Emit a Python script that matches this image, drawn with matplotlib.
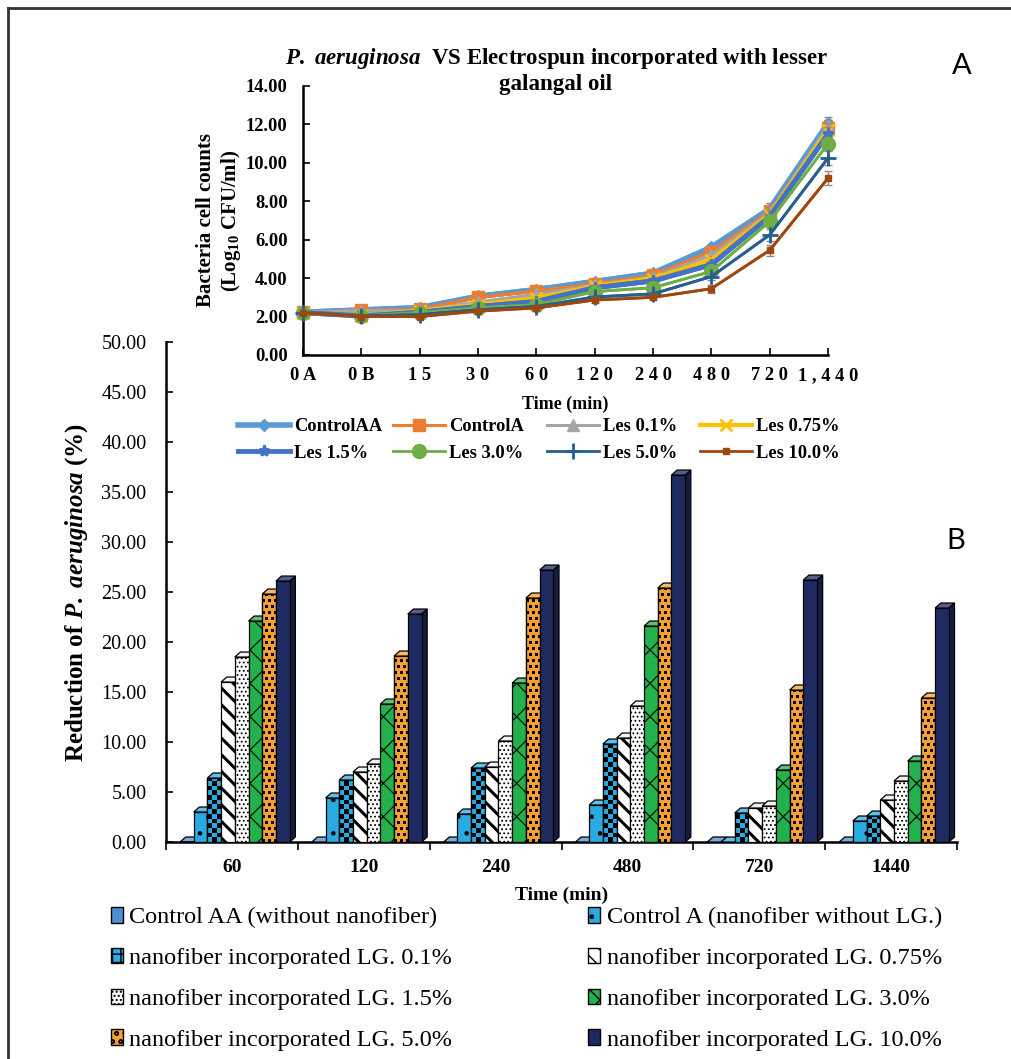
import numpy as np
import matplotlib.pyplot as plt
import matplotlib.colors as mcolors
from matplotlib.patches import Polygon, Rectangle, Patch
from matplotlib.lines import Line2D

plt.rcParams['mathtext.fontset'] = 'custom'
plt.rcParams['mathtext.rm'] = 'Liberation Serif:bold'
plt.rcParams['mathtext.it'] = 'Liberation Serif:italic:bold'
plt.rcParams['mathtext.bf'] = 'Liberation Serif:bold'
plt.rcParams['hatch.linewidth'] = 1.0

# ---- panel A data (log10 CFU/ml) ----
times = ['0 A', '0 B', '1 5', '3 0', '6 0', '1 2 0', '2 4 0', '4 8 0', '7 2 0', '1 , 4 4 0']
ctrl_aa = [2.22, 2.34, 2.46, 3.05, 3.40, 3.82, 4.25, 5.60, 7.60, 12.05]
ctrl_a = [2.22, 2.32, 2.38, 3.00, 3.32, 3.72, 4.15, 5.38, 7.47, 11.80]
les_01 = [2.22, 2.30, 2.32, 2.75, 3.15, 3.65, 4.05, 5.20, 7.40, 11.90]
les_075 = [2.20, 2.05, 2.28, 2.62, 2.95, 3.58, 3.98, 4.95, 7.30, 11.70]
les_15 = [2.20, 2.03, 2.22, 2.52, 2.78, 3.50, 3.85, 4.70, 7.20, 11.50]
les_30 = [2.18, 2.03, 2.20, 2.45, 2.62, 3.30, 3.50, 4.35, 6.95, 11.00]
les_50 = [2.20, 2.03, 2.10, 2.35, 2.52, 3.02, 3.18, 4.08, 6.25, 10.25]
les_100 = [2.20, 2.00, 2.00, 2.28, 2.45, 2.86, 3.00, 3.45, 5.45, 9.20]
err = [0.10, 0.10, 0.10, 0.12, 0.12, 0.15, 0.15, 0.20, 0.30, 0.35]

# ---- panel B data (% reduction) ----
groups = ['60', '120', '240', '480', '720', '1440']
red_aa = [0.0, 0.0, 0.0, 0.0, 0.0, 0.0]
red_a = [3.0, 4.4, 2.8, 3.7, 0.0, 2.1]
red_01 = [6.4, 6.2, 7.4, 9.8, 2.9, 2.6]
red_075 = [16.0, 7.0, 7.5, 10.4, 3.4, 4.2]
red_15 = [18.5, 7.8, 10.1, 13.6, 3.6, 6.1]
red_30 = [22.1, 13.8, 15.9, 21.6, 7.2, 8.1]
red_50 = [24.8, 18.6, 24.4, 25.4, 15.2, 14.4]
red_100 = [26.1, 22.8, 27.2, 36.7, 26.2, 23.4]

fig = plt.figure(figsize=(10.11, 10.59), dpi=100)

# frame lines
fig.add_artist(Line2D([0.008, 1.0], [0.9925, 0.9925], color='#333333', lw=2))
fig.add_artist(Line2D([0.008, 0.008], [0.0, 0.9925], color='#333333', lw=2))

# ================= panel B =================
ax = fig.add_axes([0.1642, 0.2049, 0.7824, 0.4721])
ax.set_xlim(0, 6)
ax.set_ylim(0, 50)

series = [
    ('Control AA (without nanofiber)', red_aa, '#4F8FD0', None, None),
    ('Control A (nanofiber without LG.)', red_a, '#29ABE2', '.', None),
    ('nanofiber incorporated LG. 0.1%', red_01, '#29ABE2', None, 'checker'),
    ('nanofiber incorporated LG. 0.75%', red_075, 'white', '\\\\', None),
    ('nanofiber incorporated LG. 1.5%', red_15, 'white', '....', None),
    ('nanofiber incorporated LG. 3.0%', red_30, '#22B14C', 'x', None),
    ('nanofiber incorporated LG. 5.0%', red_50, '#F7A030', None, 'dots'),
    ('nanofiber incorporated LG. 10.0%', red_100, '#1F2A60', None, None),
]

w = 0.104
dx, dy = 0.043, 0.5
px_x = 6 / (0.7824 * 1011)
px_y = 50 / (0.4721 * 1059)


def shade(c, f):
    r, g, b = mcolors.to_rgb(c)
    if f < 1:
        return (r * f, g * f, b * f)
    return (r + (1 - r) * (f - 1), g + (1 - g) * (f - 1), b + (1 - b) * (f - 1))


def texture(kind, x0, v, color, z, clip):
    if kind == 'checker':
        cx, cy = 4.7 * px_x, 4.7 * px_y
        nc = int(np.ceil(w / cx)) + 1
        nr = int(np.ceil(v / cy)) + 1
        img = (np.add.outer(np.arange(nr), np.arange(nc)) % 2).astype(float)
    else:
        cx, cy = 3.0 * px_x, 3.0 * px_y
        nc = int(np.ceil(w / cx)) + 2
        nr = int(np.ceil(v / cy)) + 2
        rr, cc = np.meshgrid(np.arange(nr), np.arange(nc), indexing='ij')
        img = ((rr % 2 == 0) & ((cc + rr // 2) % 2 == 0)).astype(float)
    cmap = mcolors.ListedColormap([color, 'black'])
    im = ax.imshow(img, extent=(x0, x0 + nc * cx, 0, nr * cy), origin='lower',
                   cmap=cmap, vmin=0, vmax=1, aspect='auto',
                   interpolation='nearest', zorder=z)
    im.set_clip_path(clip)


for gi in range(len(groups)):
    for k, (lab, vals, col, hatch, tex) in enumerate(series):
        v = vals[gi]
        x0 = gi + 0.106 + k * w
        z = 2 + gi * 10 + k
        hlw = 2.2 if hatch == '\\\\' else 0.8
        with plt.rc_context({'hatch.linewidth': hlw}):
            front = Rectangle((x0, 0), w, v, fc=col, ec='black', lw=0.9,
                              hatch=hatch, zorder=z + 0.2)
        ax.add_patch(front)
        if tex is not None and v > 0:
            texture(tex, x0, v, col, z + 0.3, front)
            ax.add_patch(Rectangle((x0, 0), w, v, fc='none', ec='black', lw=0.9, zorder=z + 0.4))
        side = Polygon([(x0 + w, 0), (x0 + w + dx, dy), (x0 + w + dx, v + dy), (x0 + w, v)],
                       closed=True, fc=shade(col, 0.7) if col != 'white' else '#e6e6e6',
                       ec='black', lw=0.9, zorder=z)
        top = Polygon([(x0, v), (x0 + dx, v + dy), (x0 + w + dx, v + dy), (x0 + w, v)],
                      closed=True, fc=shade(col, 1.25) if col != 'white' else '#f2f2f2',
                      ec='black', lw=0.9, zorder=z + 0.5)
        ax.add_patch(side)
        ax.add_patch(top)

ax.set_xlim(0, 6)
ax.set_ylim(0, 50)
ax.spines['top'].set_visible(False)
ax.spines['right'].set_visible(False)
ax.spines['left'].set_linewidth(1.8)
ax.spines['bottom'].set_linewidth(1.8)
ax.set_yticks(np.arange(0, 50.1, 5))
ax.set_yticklabels(['%.2f' % t for t in np.arange(0, 50.1, 5)], family='Liberation Serif', fontsize=14.5)
ax.tick_params(axis='y', direction='in', length=5, width=1.2, pad=14)
ax.set_xticks(np.arange(0, 7))
ax.set_xticklabels([])
ax.set_xticks(np.arange(6) + 0.5, minor=True)
ax.set_xticklabels(groups, minor=True, family='Liberation Serif', fontweight='bold', fontsize=14)
ax.tick_params(axis='x', which='major', direction='out', length=6, width=1.2)
ax.tick_params(axis='x', which='minor', length=0, pad=12)
ax.set_xlabel('Time (min)', family='Liberation Serif', fontweight='bold', fontsize=14, labelpad=8)
ax.set_ylabel(r'Reduction of $\mathit{P.\ aeruginosa}$ (%)', family='Liberation Serif',
              fontweight='bold', fontsize=18, labelpad=8)
ax.patch.set_alpha(0)

handles = []
for lab, vals, col, hatch, tex in series:
    h = hatch
    if tex == 'checker':
        h = '++'
    elif tex == 'dots':
        h = 'oo'
    handles.append(Patch(fc=col, ec='black', hatch=h, label=lab))
order = [0, 2, 4, 6, 1, 3, 5, 7]
fig.legend([handles[i] for i in order], [series[i][0] for i in order],
           loc='upper left', bbox_to_anchor=(0.088, 0.164), ncol=2, frameon=False,
           prop={'family': 'Liberation Serif', 'size': 17.5},
           handlelength=0.5, handleheight=0.6, handletextpad=0.25,
           labelspacing=0.8, columnspacing=5.6)

# ================= panel A (inset) =================
ax2 = fig.add_axes([0.2997, 0.6648, 0.5193, 0.254])
xs = np.arange(len(times))
lines = [
    ('ControlAA', ctrl_aa, '#5B9BD5', 'D', 6, 4.0),
    ('ControlA', ctrl_a, '#ED7D31', 's', 9, 2.2),
    ('Les 0.1%', les_01, '#A5A5A5', '^', 8, 2.2),
    ('Les 0.75%', les_075, '#FFC000', 'x', 8, 3.0),
    ('Les 1.5%', les_15, '#4472C4', '*', 8, 3.5),
    ('Les 3.0%', les_30, '#70AD47', 'o', 10, 2.0),
    ('Les 5.0%', les_50, '#255E91', '+', 12, 2.0),
    ('Les 10.0%', les_100, '#9E480E', 's', 4, 2.0),
]
lh = []
for i, (lab, vals, col, mk, ms, lw) in enumerate(lines):
    ax2.errorbar(xs, vals, yerr=err, color=col, ecolor='#8c8c8c', elinewidth=1,
                 capsize=3, lw=lw, zorder=3 + i, clip_on=False)
    ln, = ax2.plot(xs, vals, color=col, lw=lw, marker=mk, ms=ms, mew=2 if mk in 'x+*' else 1,
                   mec=col, mfc=col, zorder=3 + i, clip_on=False, label=lab)
    lh.append(ln)
ax2.set_xlim(0, 9)
ax2.set_ylim(0, 14)
ax2.set_yticks(np.arange(0, 14.1, 2))
ax2.set_yticklabels(['%.2f' % t for t in np.arange(0, 14.1, 2)], family='Liberation Serif',
                    fontweight='bold', fontsize=13.3)
ax2.set_xticks(xs)
ax2.set_xticklabels(times, family='Liberation Serif', fontweight='bold', fontsize=13.3)
ax2.tick_params(direction='in', length=5, width=1.2, pad=11)
ax2.tick_params(axis='x', pad=9)
ax2.spines['top'].set_visible(False)
ax2.spines['right'].set_visible(False)
ax2.spines['left'].set_linewidth(1.8)
ax2.spines['bottom'].set_linewidth(1.8)
ax2.patch.set_alpha(0)
ax2.set_xlabel('Time (min)', family='Liberation Serif', fontweight='bold', fontsize=13, labelpad=8)
ax2.set_ylabel('Bacteria cell counts\n(Log$_{10}$ CFU/ml)', family='Liberation Serif',
               fontweight='bold', fontsize=15, labelpad=2)
fig.text(0.550, 0.9334,
         r'$\mathit{P.\ aeruginosa}$  VS Electrospun incorporated with lesser' + '\ngalangal oil',
         family='Liberation Serif', fontweight='bold', fontsize=16.5, ha='center', va='center')

# Excel-style legend: four equal-width columns, two rows
col_x = [238, 393, 547, 700]
for c in range(4):
    leg = fig.legend([lh[c], lh[c + 4]], [lines[c][0], lines[c + 4][0]], loc='upper left',
                     bbox_to_anchor=(col_x[c] / 1011, 0.605), frameon=False,
                     prop={'family': 'Liberation Serif', 'weight': 'bold', 'size': 13.3},
                     handlelength=2.8, handletextpad=0.25, labelspacing=0.5, borderpad=0,
                     borderaxespad=0)

fig.text(0.951, 0.938, 'A', family='Lato', fontsize=21, ha='center', va='center')
fig.text(0.945, 0.489, 'B', family='Lato', fontsize=21, ha='center', va='center')

fig.savefig('out.png', dpi=100)
